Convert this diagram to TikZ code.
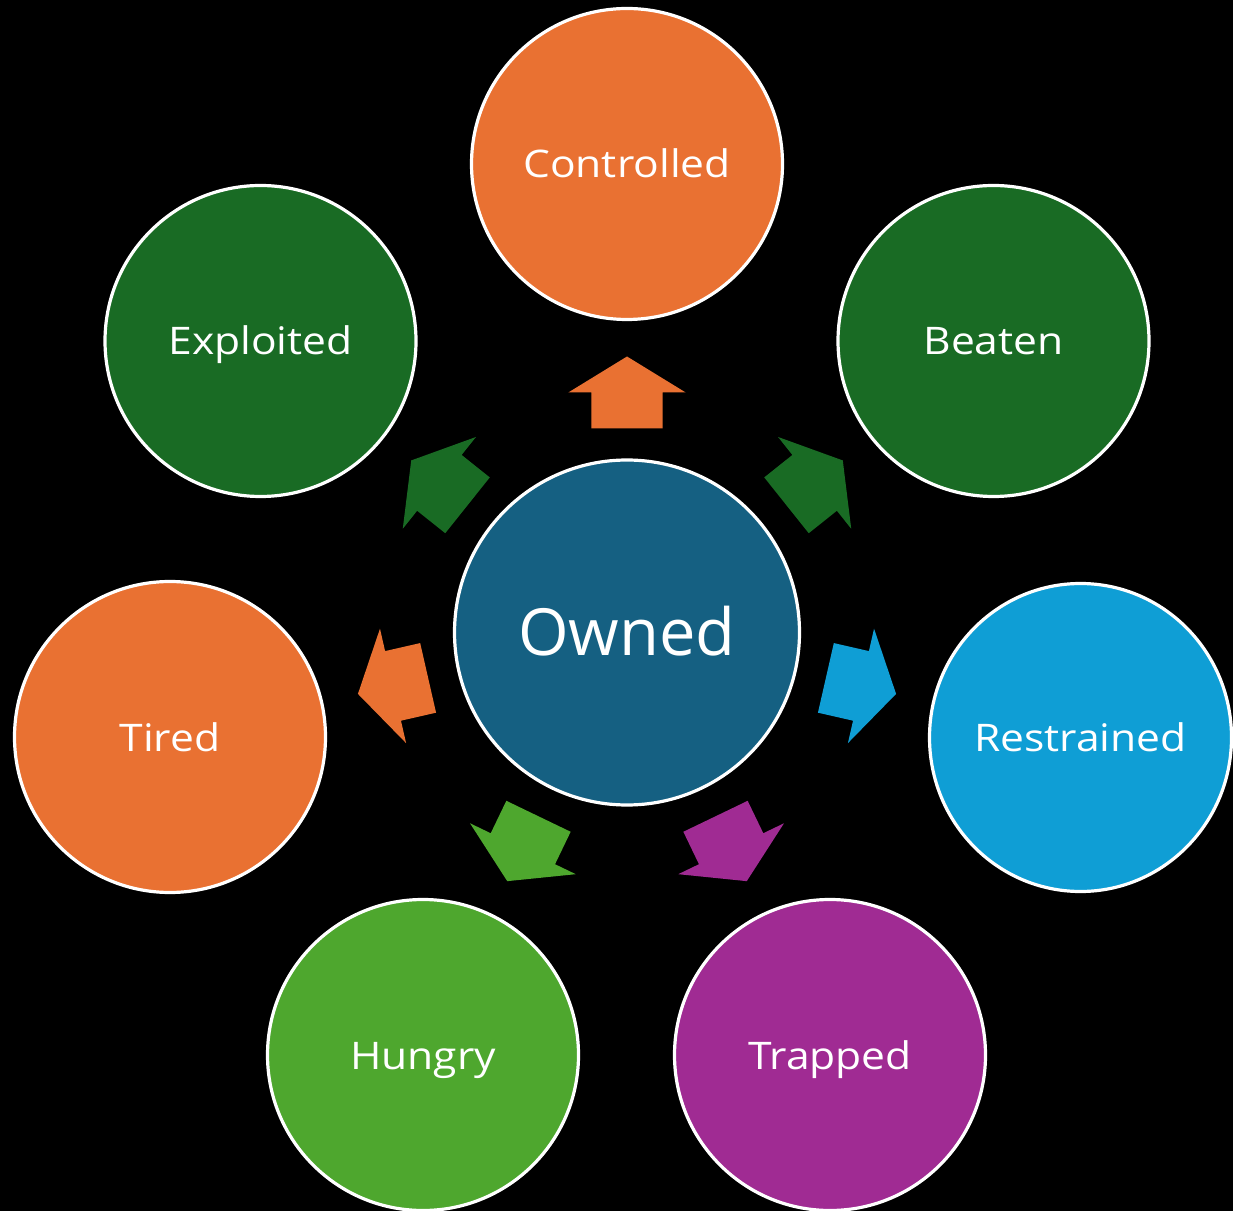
\documentclass[tikz,border=0pt]{standalone}
\usepackage{fontspec}
\setmainfont{Open Sans}
\newfontfamily\lblfont[FakeStretch=1.12]{Open Sans}
\usetikzlibrary{shapes.geometric}
\definecolor{corange}{HTML}{E97132}
\definecolor{cdgreen}{HTML}{196B24}
\definecolor{cblue}{HTML}{0F9ED5}
\definecolor{cpurple}{HTML}{A02B93}
\definecolor{clgreen}{HTML}{4EA72E}
\definecolor{cteal}{HTML}{156082}
\begin{document}
\begin{tikzpicture}[x=1pt,y=1pt,
  outer/.style={circle, draw=white, line width=3.2pt, minimum size=311pt, inner sep=0pt,
    text=white, font=\lblfont\fontsize{38}{40}\selectfont, text height=32pt, text depth=4pt},
  hub/.style={circle, draw=white, line width=3.2pt, minimum size=345pt, inner sep=0pt,
    text=white, font=\fontsize{65}{70}\selectfont, text height=52pt, text depth=6pt},
  blockarrow/.style={fill=#1}]
\fill[black] (0,0) rectangle (1233,1211);
\useasboundingbox (0,0) rectangle (1233,1211);
\clip (0,0) rectangle (1233,1211);
\coordinate (c) at (627,578.5);
\node[hub, fill=cteal] (owned) at (c) {Owned};
\node[outer, fill=corange] (controlled) at (627,1047) {Controlled};
\node[outer, fill=cdgreen] (beaten) at (993.5,870) {Beaten};
\node[outer, ellipse, minimum width=302pt, minimum height=308pt, fill=cblue] (restrained) at (1080.5,473.5) {Restrained};
\node[outer, fill=cpurple] (trapped) at (830,156) {Trapped};
\node[outer, fill=clgreen] (hungry) at (423,156) {Hungry};
\node[outer, fill=corange] (tired) at (170,474) {Tired};
\node[outer, fill=cdgreen] (exploited) at (260.5,870) {Exploited};
\foreach \ang/\col in {90/corange, 38.571/cdgreen, -12.857/cblue, -64.286/cpurple,
    -115.714/clgreen, -167.143/corange, 141.429/cdgreen} {
  \begin{scope}[shift={(c)}, rotate=\ang]
    \fill[blockarrow=\col] (204,-35.7) -- (240,-35.7) -- (240,-58.7) -- (276,0)
      -- (240,58.7) -- (240,35.7) -- (204,35.7) -- cycle;
  \end{scope}
}
\end{tikzpicture}
\end{document}
